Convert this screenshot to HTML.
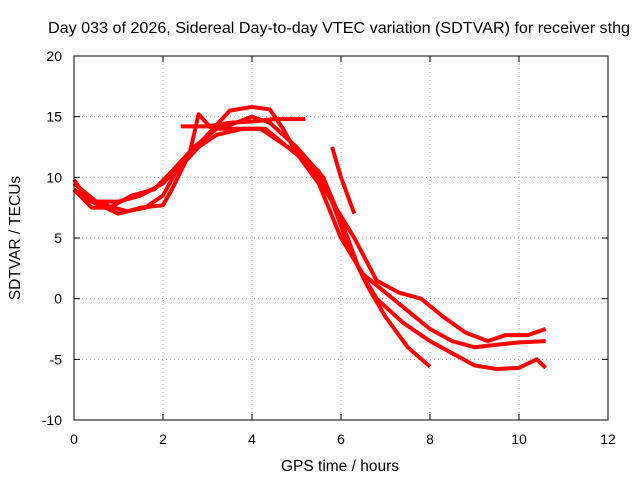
<!DOCTYPE html>
<html><head><meta charset="utf-8"><style>
body{margin:0;background:#fff}
text{font-family:"Liberation Sans",sans-serif;font-size:14px;fill:#000}
</style></head><body>
<svg id="chart" width="640" height="480" xmlns="http://www.w3.org/2000/svg">
<rect width="640" height="480" fill="#fff"/>
<text x="339" y="33" text-anchor="middle" textLength="582" lengthAdjust="spacingAndGlyphs" style="font-size:16px">Day 033 of 2026, Sidereal Day-to-day VTEC variation (SDTVAR) for receiver sthg</text>
<g id="grid"></g>
<g id="ticks"></g>
<g id="series"></g>
<rect x="74" y="56" width="534" height="364" fill="none" stroke="#000" stroke-width="1"/>
<text x="340" y="471" text-anchor="middle" style="font-size:15.5px">GPS time / hours</text>
<text transform="translate(20,238) rotate(-90)" text-anchor="middle" style="font-size:15.5px">SDTVAR / TECUs</text>
</svg>
<script>
const xTicks=[0,2,4,6,8,10,12];
const yTicks=[-10,-5,0,5,10,15,20];
const s1=[[0,9.8],[0.3,8.2],[0.8,7.6],[1.2,7.2],[1.6,7.5],[2,8.5],[2.3,10.5],[2.8,12.5],[3.2,13.5],[3.8,14],[4.2,14],[4.6,13],[5,12],[5.5,10.5],[5.8,8],[6.2,4],[6.6,1],[7,-1.5],[7.5,-4],[8,-5.6]];
const s2=[[0,9],[0.4,8],[1,7],[1.5,7.5],[2,7.7],[2.2,9],[2.6,12],[2.8,15.2],[3.1,14],[3.5,14.3],[4,15],[4.4,14.5],[5,12.5],[5.6,10],[6,6.5],[6.4,2.5],[6.8,0],[7.4,-2],[8,-3.5],[8.5,-4.5],[9,-5.5],[9.5,-5.8],[10,-5.7],[10.4,-5],[10.6,-5.7]];
const s3=[[0,9.5],[0.5,8],[1,8],[1.5,8.5],[2,9.5],[2.5,11.5],[3,13.5],[3.5,15.5],[4,15.8],[4.4,15.6],[4.7,14],[5,12],[5.5,9.5],[6,5],[6.5,2],[7,0.5],[7.5,-1],[8,-2.5],[8.5,-3.5],[9,-4],[9.5,-3.8],[10,-3.6],[10.6,-3.5]];
const s4=[[0,9],[0.4,7.5],[0.8,7.5],[1.3,8.5],[1.8,9],[2.2,10.5],[2.7,12.5],[3.2,14],[3.8,14],[4.3,14],[4.8,12.5],[5.3,11],[5.8,8],[6.3,5],[6.8,1.5],[7.3,0.5],[7.8,0],[8.3,-1.5],[8.8,-2.8],[9.3,-3.5],[9.7,-3],[10.2,-3],[10.6,-2.5]];
const s5=[[2.4,14.2],[3,14.2],[3.5,14.5],[4,14.6],[4.5,14.8],[5.2,14.8]];
const s6=[[5.8,12.5],[6,10],[6.2,8],[6.3,7]];
const allSeries=[s1,s2,s3,s4,s5,s6];
const X=v=>74+(v-0)/12*534, Y=v=>420-(v+10)/30*364;
const NS="http://www.w3.org/2000/svg";
const grid=document.getElementById('grid'),ticks=document.getElementById('ticks'),ser=document.getElementById('series');
function mk(t,a,p){const e=document.createElementNS(NS,t);for(const k in a)e.setAttribute(k,a[k]);p.appendChild(e);return e;}
xTicks.forEach(v=>{
 if(v>0&&v<12){const g=mk('line',{x1:X(v),x2:X(v),y1:56,y2:420,stroke:'#aaa','stroke-dasharray':'1,3'},grid);
 
 }
 const t=mk('text',{x:X(v),y:444,'text-anchor':'middle'},ticks);t.textContent=v;
 
 
 mk('line',{x1:X(v),x2:X(v),y1:420,y2:414,stroke:'#000'},ticks);
 mk('line',{x1:X(v),x2:X(v),y1:56,y2:62,stroke:'#000'},ticks);
});
yTicks.forEach(v=>{
 if(v>-10&&v<20){const g=mk('line',{x1:74,x2:608,y1:Y(v),y2:Y(v),stroke:'#aaa','stroke-dasharray':'1,3'},grid);
 
 }
 const t=mk('text',{x:62,y:Y(v)+5,'text-anchor':'end'},ticks);t.textContent=v;
 
 
 mk('line',{x1:74,x2:80,y1:Y(v),y2:Y(v),stroke:'#000'},ticks);
 mk('line',{x1:608,x2:602,y1:Y(v),y2:Y(v),stroke:'#000'},ticks);
});
allSeries.forEach((s,i)=>{
 const p=mk('polyline',{points:s.map(d=>X(d[0])+','+Y(d[1])).join(' '),fill:'none',stroke:'#f00','stroke-width':4,'stroke-linejoin':'round'},ser);
 
 
});
</script>
</body></html>
